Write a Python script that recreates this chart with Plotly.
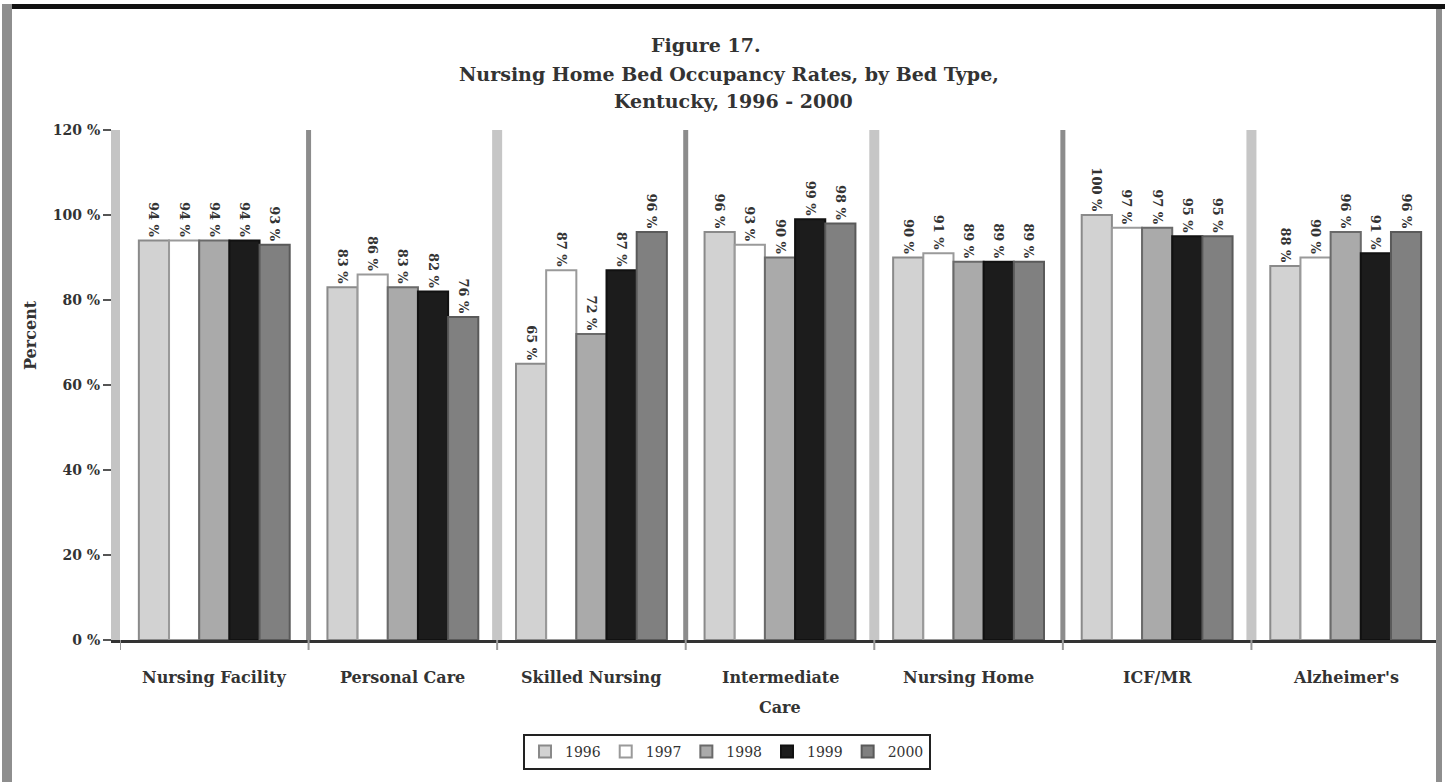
import plotly.graph_objects as go

# Bed types (x categories) and occupancy rates per year
bed_types = ["Nursing Facility", "Personal Care", "Skilled Nursing", "Intermediate Care",
             "Nursing Home", "ICF/MR", "Alzheimer's"]
years = ["1996", "1997", "1998", "1999", "2000"]

rate_1996 = [94, 83, 65, 96, 90, 100, 88]
rate_1997 = [94, 86, 87, 93, 91, 97, 90]
rate_1998 = [94, 83, 72, 90, 89, 97, 96]
rate_1999 = [94, 82, 87, 99, 89, 95, 91]
rate_2000 = [93, 76, 96, 98, 89, 95, 96]

y_ticks = [0, 20, 40, 60, 80, 100, 120]

series = [rate_1996, rate_1997, rate_1998, rate_1999, rate_2000]
fills = ["#d2d2d2", "#ffffff", "#aaaaaa", "#1c1c1c", "#808080"]
edges = ["#8a8a8a", "#9a9a9a", "#6a6a6a", "#111111", "#5a5a5a"]

SERIF = "DejaVu Serif"
INK = "#333333"
x_pos = list(range(len(bed_types)))

# plot area in pixels, used to place paper-referenced decorations
L, R, T, B, W, H = 120, 1440, 130, 640, 1445, 782
PW, PH = R - L, B - T


def px(x):
    return (x - L) / PW


def py(y):
    return (B - y) / PH


fig = go.Figure()
for yr, vals, fc, ec in zip(years, series, fills, edges):
    fig.add_trace(go.Bar(
        x=x_pos, y=vals, name=yr,
        marker=dict(color=fc, line=dict(color=ec, width=2)),
        text=[f"<b>{v} %</b>" for v in vals], textposition="outside", textangle=90,
        textfont=dict(family=SERIF, size=13, color=INK),
        constraintext="none", cliponaxis=False,
    ))

shapes = []
# category separators, alternating light and dark gray
for i in range(1, len(bed_types)):
    light = (i % 2 == 0)
    shapes.append(dict(type="line", xref="x", yref="paper", x0=i - 0.5, x1=i - 0.5, y0=0, y1=1,
                       line=dict(color="#c6c6c6" if light else "#8c8c8c", width=10 if light else 5),
                       layer="below"))
# small ticks below the category axis
for i in range(0, len(bed_types) + 1):
    shapes.append(dict(type="line", xref="x", yref="paper", x0=i - 0.5, x1=i - 0.5,
                       y0=0, y1=py(650), line=dict(color="#9a9a9a", width=2)))

# outer frame of the figure
shapes.append(dict(type="line", xref="paper", yref="paper",
                   x0=px(8), x1=px(W), y0=py(6.5), y1=py(6.5),
                   line=dict(color="#111111", width=5)))
shapes.append(dict(type="line", xref="paper", yref="paper",
                   x0=px(7), x1=px(7), y0=py(4), y1=py(H),
                   line=dict(color="#8e8e8e", width=10)))
shapes.append(dict(type="line", xref="paper", yref="paper",
                   x0=px(1439), x1=px(1439), y0=py(9), y1=py(H),
                   line=dict(color="#8e8e8e", width=6)))

annotations = []
# three-line heading
for line, xc, yc in [("Figure 17.", 706, 45),
                     ("Nursing Home Bed Occupancy Rates, by Bed Type,", 729, 74),
                     ("Kentucky, 1996 - 2000", 733, 101)]:
    annotations.append(dict(text=f"<b>{line}</b>", xref="paper", yref="paper",
                            x=px(xc), y=py(yc), xanchor="center", yanchor="middle",
                            showarrow=False, font=dict(family=SERIF, size=19, color=INK)))
# y-axis title
annotations.append(dict(text="<b>Percent</b>", xref="paper", yref="paper",
                        x=px(30), y=py(335), textangle=-90,
                        xanchor="center", yanchor="middle", showarrow=False,
                        font=dict(family=SERIF, size=16, color=INK)))
# category labels (long ones wrap onto a second row)
for i, name in enumerate(bed_types):
    words = name.split(" ")
    rows = [name] if name != "Intermediate Care" else [words[0], words[1]]
    for r, txt in enumerate(rows):
        annotations.append(dict(text=f"<b>{txt}</b>", xref="x", yref="paper",
                                x=i, y=py(677 + 30 * r), xanchor="center", yanchor="middle",
                                showarrow=False, font=dict(family=SERIF, size=16, color=INK)))

fig.update_layout(
    width=W, height=H,
    margin=dict(l=L, r=W - R, t=T, b=H - B),
    paper_bgcolor="white", plot_bgcolor="white",
    barmode="group", bargap=0.2, bargroupgap=0,
    font=dict(family=SERIF, color=INK),
    showlegend=True,
    legend=dict(orientation="h", xref="container", yref="container",
                x=727 / W, y=1 - 752 / H, xanchor="center", yanchor="middle",
                bordercolor="#222222", borderwidth=2,
                font=dict(family=SERIF, size=14, color=INK),
                itemwidth=30, tracegroupgap=0),
    shapes=shapes,
    annotations=annotations,
)

fig.update_xaxes(
    tickmode="array", tickvals=x_pos, ticktext=["" for _ in bed_types],
    range=[-0.5, len(bed_types) - 0.5],
    showline=True, linecolor="#333333", linewidth=3, ticks="",
    showgrid=False, zeroline=False,
)
fig.update_yaxes(
    range=[0, 120], tickmode="array", tickvals=y_ticks,
    ticktext=[f"<b>{t} %</b>" for t in y_ticks],
    showline=True, linecolor="#c4c4c4", linewidth=9,
    ticks="outside", ticklen=8, tickwidth=2, tickcolor="#555555",
    tickfont=dict(family=SERIF, size=14, color=INK),
    showgrid=False, zeroline=False,
)

fig.write_html("out.html")
